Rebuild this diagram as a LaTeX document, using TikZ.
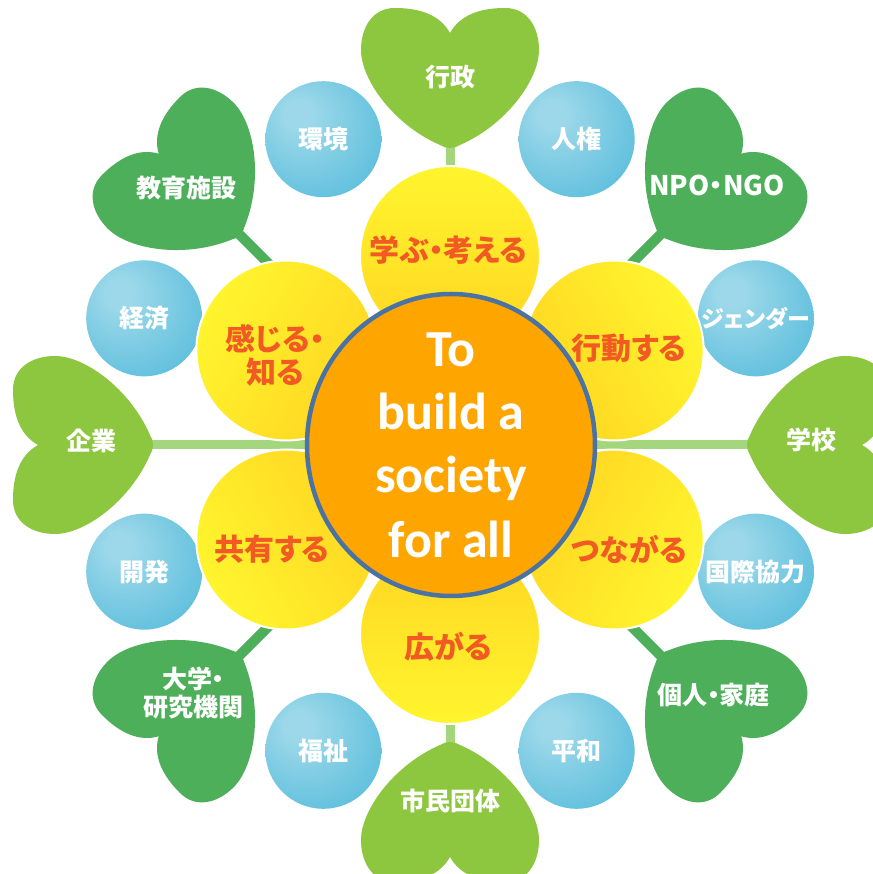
\documentclass[tikz,border=0pt]{standalone}
\usepackage{fontspec}
\usetikzlibrary{shapes.geometric}
\newfontfamily\jpf{Noto Sans CJK JP}[RawFeature=+palt]
\newfontfamily\carl{Carlito}
\definecolor{lgreen}{HTML}{8DC63F}
\definecolor{dgreen}{HTML}{4DAF5A}
\definecolor{lstem}{HTML}{A3D67D}
\definecolor{bhi}{HTML}{9CD8EA}
\definecolor{bmid}{HTML}{5CBEDC}
\definecolor{bedge}{HTML}{42AED1}
\definecolor{yL}{HTML}{FFF52E}
\definecolor{yD}{HTML}{FFD522}
\definecolor{orng}{HTML}{FFA500}
\definecolor{rimblue}{HTML}{4A73A3}
\definecolor{otext}{HTML}{F15A22}
\pgfdeclareradialshading{bluesph}{\pgfpoint{-12bp}{12bp}}{color(0bp)=(bhi); color(6bp)=(bhi); color(36bp)=(bmid); color(62bp)=(bedge)}
\tikzset{
  leaf/.pic={\path[pic actions] (0,47) .. controls (10,65) and (30,72) .. (55,72)
     .. controls (78,72) and (89,52) .. (89,30)
     .. controls (89,0) and (56,-45) .. (10,-65)
     .. controls (4,-69) and (-4,-69) .. (-10,-65)
     .. controls (-56,-45) and (-89,0) .. (-89,30)
     .. controls (-89,52) and (-78,72) .. (-55,72)
     .. controls (-30,72) and (-10,65) .. (0,47) -- cycle;},
  lstemline/.style={draw=lstem, line width=9pt},
  dstemline/.style={draw=dgreen, line width=10pt},
  hearttext/.style={text=white, font=\jpf\bfseries\fontsize{25}{28.5}\selectfont, align=center, inner sep=0pt},
  ball/.style={circle, minimum size=116pt, inner sep=0pt, shade, shading=bluesph, text=white, font=\jpf\bfseries\fontsize{25}{28}\selectfont},
  ycirc/.style={circle, minimum size=180pt, inner sep=0pt, top color=yL, bottom color=yD, draw=white, line width=2pt},
  ytext/.style={text=otext, font=\jpf\bfseries\fontsize{30}{33}\selectfont, align=center, inner sep=0pt},
  ctext/.style={text=white, font=\carl\bfseries\fontsize{52}{60}\selectfont, anchor=base, inner sep=0pt}
}
\begin{document}
\begin{tikzpicture}[x=1pt,y=1pt]
\fill[white] (-450,-429) rectangle (422,445);
\useasboundingbox (-450,-429) rectangle (422,445);
\coordinate (C) at (0,0);
% stems
\foreach \a/\n in {90/sn,0/se,-90/ss,180/sw}{\coordinate (\n) at (\a:300);}
\foreach \a/\n in {45/sne,-45/sse,-135/ssw,135/snw}{\coordinate (\n) at (\a:300);}
\draw[lstemline] (C) -- (sn);
\draw[lstemline] (C) -- (se);
\draw[lstemline] (C) -- (ss);
\draw[lstemline] (C) -- (sw);
\draw[dstemline] (C) -- (sne);
\draw[dstemline] (C) -- (sse);
\draw[dstemline] (C) -- (ssw);
\draw[dstemline] (C) -- (snw);
% leaves
\pic[fill=lgreen, rotate=0] (hn) at (90:365) {leaf};
\pic[fill=dgreen, rotate=-45] (hne) at (45:365) {leaf};
\pic[fill=lgreen, rotate=-90] (he) at (0:365) {leaf};
\pic[fill=dgreen, rotate=-135] (hse) at (-45:365) {leaf};
\pic[fill=lgreen, rotate=180] (hs) at (-90:365) {leaf};
\pic[fill=dgreen, rotate=135] (hsw) at (-135:365) {leaf};
\pic[fill=lgreen, rotate=90] (hw) at (180:365) {leaf};
\pic[fill=dgreen, rotate=45] (hnw) at (135:365) {leaf};
\node[hearttext] (gyosei) at (0,368) {行政};
\node[hearttext, font=\jpf\bfseries\fontsize{27}{30}\selectfont] (npo) at (267,260) {NPO・NGO};
\node[hearttext] (gakko) at (361,5) {学校};
\node[hearttext] (kojin) at (263.5,-250) {個人・家庭};
\node[hearttext] (shimin) at (0,-356) {市民団体};
\node[hearttext] (daigaku) at (-256.5,-248) {大学・\\研究機関};
\node[hearttext] (kigyo) at (-358,4) {企業};
\node[hearttext] (kyoiku) at (-263.5,256.5) {教育施設};
% blue balls
\node[ball] (kankyo) at (112.5:331) {環境};
\node[ball] (jinken) at (67.5:331) {人権};
\node[ball, font=\jpf\bfseries\fontsize{23}{26}\selectfont] (gender) at (22.5:331) {ジェンダー};
\node[ball] (kokusai) at (-22.5:331) {国際協力};
\node[ball] (heiwa) at (-67.5:331) {平和};
\node[ball] (fukushi) at (-112.5:331) {福祉};
\node[ball] (kaihatsu) at (-157.5:331) {開発};
\node[ball] (keizai) at (157.5:331) {経済};
% yellow petals
\node[ycirc, shading angle=0] (y1) at (90:189) {};
\node[ycirc, shading angle=-60] (y2) at (30:189) {};
\node[ycirc, shading angle=-120] (y3) at (-30:189) {};
\node[ycirc, shading angle=180] (y4) at (-90:189) {};
\node[ycirc, shading angle=120] (y5) at (-150:189) {};
\node[ycirc, shading angle=60] (y6) at (150:189) {};
\node[ytext] (manabu) at (-1.5,195) {学ぶ・考える};
\node[ytext] (kodo) at (179,97) {行動する};
\node[ytext] (tsunagaru) at (179,-104) {つながる};
\node[ytext] (hirogaru) at (-1.5,-202) {広がる};
\node[ytext] (kyoyu) at (-178,-104) {共有する};
\node[ytext] (kanjiru) at (-175,90) {感じる・\\知る};
% core
\node[ellipse, minimum width=288pt, minimum height=302pt, inner sep=0pt, fill=orng, draw=rimblue, line width=4.5pt] (core) at (1,0) {};
\node[ctext] (c1) at (1,78) {To};
\node[ctext] (c2) at (1,15) {build a};
\node[ctext] (c3) at (1,-48) {society};
\node[ctext] (c4) at (1,-113) {for all};
\end{tikzpicture}
\end{document}
